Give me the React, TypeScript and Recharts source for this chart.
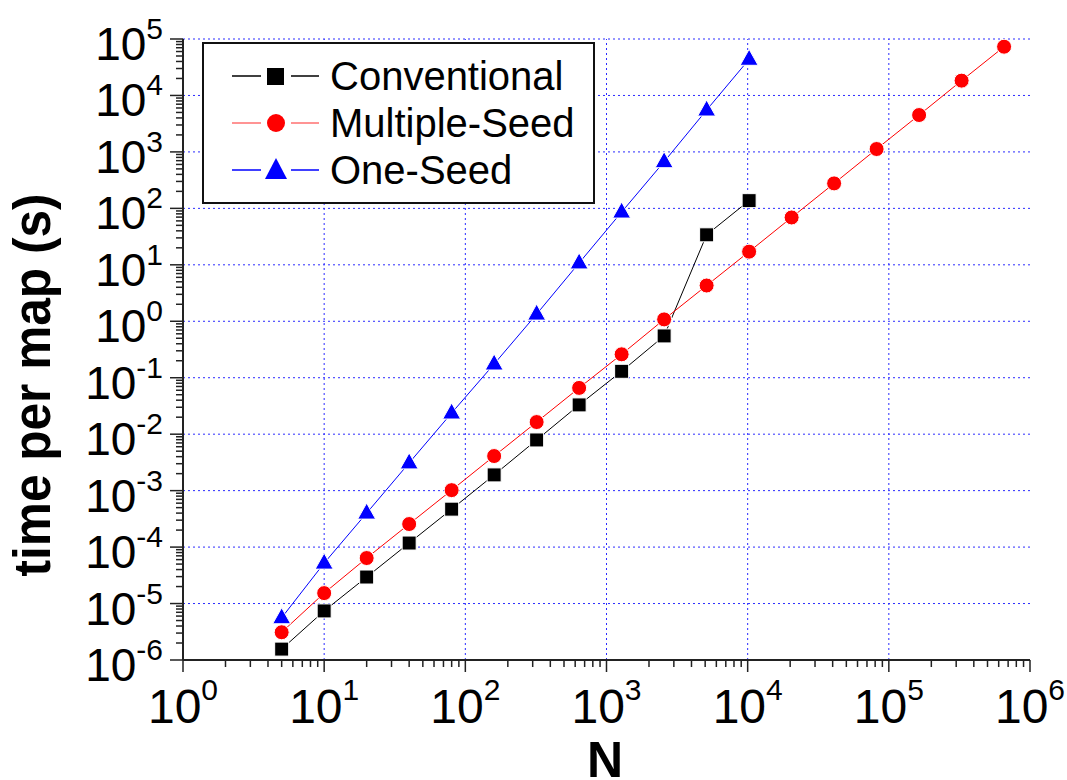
import React from 'react';
import { LineChart, Line, XAxis, YAxis, ReferenceLine, Legend } from 'recharts';

// N values and timings (seconds per map)
const nConventional = [5, 10, 20, 40, 80, 160, 320, 640, 1280, 2560, 5120, 10240];
const tConventional = [1.56e-6, 7.4e-6, 2.95e-5, 1.18e-4, 4.7e-4, 1.9e-3, 7.9e-3, 3.3e-2, 0.13, 0.55, 34, 137];

const nMultiple = [5, 10, 20, 40, 80, 160, 320, 640, 1280, 2560, 5120, 10240, 20480, 40960, 81920, 163840, 327680, 655360];
const tMultiple = [3.1e-6, 1.53e-5, 6.4e-5, 2.56e-4, 1.02e-3, 4.1e-3, 1.64e-2, 6.6e-2, 0.26, 1.08, 4.3, 17.1, 69, 277, 1125, 4500, 18300, 73000];

const nOneSeed = [5, 10, 20, 40, 80, 160, 320, 640, 1280, 2560, 5120, 10240];
const tOneSeed = [5.6e-6, 5.2e-5, 4.0e-4, 3.1e-3, 0.0237, 0.175, 1.34, 10.8, 86, 671, 5520, 43700];

const xDecades = [0, 1, 2, 3, 4, 5, 6];
const yDecades = [-6, -5, -4, -3, -2, -1, 0, 1, 2, 3, 4, 5];

const FONT = '"Liberation Sans", Arial, Helvetica, sans-serif';
const GRID = '#2b2bff';
const AXIS = '#222';

const toRows = (ns: number[], ts: number[]) => ns.map((n, i) => ({ n, t: ts[i] }));
const conventional = toRows(nConventional, tConventional);
const multiple = toRows(nMultiple, tMultiple);
const oneSeed = toRows(nOneSeed, tOneSeed);

// major + minor (2..9) ticks for each decade
const logTicks = (decs: number[]) => {
  const out: number[] = [];
  decs.forEach((e, i) => {
    if (i === decs.length - 1) {
      out.push(Math.pow(10, e));
      return;
    }
    for (let m = 1; m <= 9; m++) out.push(m * Math.pow(10, e));
  });
  return out;
};
const xTicks = logTicks(xDecades);
const yTicks = logTicks(yDecades);

const isMajor = (v: number) => {
  const lg = Math.log10(v);
  return Math.abs(lg - Math.round(lg)) < 1e-6;
};

const XTick = (props: any) => {
  const { x, y, payload } = props;
  const v = payload.value;
  const major = isMajor(v);
  return (
    <g>
      <line x1={x} x2={x} y1={y} y2={y + (major ? 12 : 7)} stroke={AXIS} strokeWidth={1.5} />
      {major && (
        <text x={x} y={y + 63} textAnchor="middle" fontSize={48} fill="#000" fontFamily={FONT}>
          <tspan>10</tspan>
          <tspan dy={-23} fontSize={30}>{Math.round(Math.log10(v))}</tspan>
        </text>
      )}
    </g>
  );
};

const YTick = (props: any) => {
  const { x, y, payload } = props;
  const v = payload.value;
  const major = isMajor(v);
  return (
    <g>
      <line x1={x - (major ? 13 : 7)} x2={x} y1={y} y2={y} stroke={AXIS} strokeWidth={1.5} />
      {major && (
        <text x={x - 20} y={y + 21} textAnchor="end" fontSize={46} fill="#000" fontFamily={FONT}>
          <tspan>10</tspan>
          <tspan dy={-21} fontSize={30}>{Math.round(Math.log10(v))}</tspan>
        </text>
      )}
    </g>
  );
};

const Square = (p: any) => (
  <rect key={`sq-${p.index}`} x={p.cx - 7} y={p.cy - 7} width={14} height={14} fill="#000" stroke="#fff" strokeWidth={1} />
);
const Circle = (p: any) => (
  <circle key={`ci-${p.index}`} cx={p.cx} cy={p.cy} r={7.5} fill="#ff0000" stroke="#fff" strokeWidth={1} />
);
const Triangle = (p: any) => (
  <polygon
    key={`tr-${p.index}`}
    points={`${p.cx},${p.cy - 10} ${p.cx - 9},${p.cy + 6} ${p.cx + 9},${p.cy + 6}`}
    fill="#0000ff"
    stroke="#fff"
    strokeWidth={1}
  />
);

const legendItems = [
  { name: 'Conventional', color: '#000', line: '#000', shape: 'square' },
  { name: 'Multiple-Seed', color: '#ff0000', line: '#ff7070', shape: 'circle' },
  { name: 'One-Seed', color: '#0000ff', line: '#0000ff', shape: 'triangle' },
];

const renderLegend = () => (
  <div
    style={{
      width: 393,
      height: 162,
      boxSizing: 'border-box',
      border: '2px solid #111',
      background: '#fff',
      paddingTop: 8,
    }}
  >
    {legendItems.map((it) => (
      <div key={it.name} style={{ display: 'flex', alignItems: 'center', height: 47 }}>
        <svg width={126} height={40} style={{ flex: 'none' }}>
          <line x1={28} x2={57} y1={20} y2={20} stroke={it.line} strokeWidth={1.5} />
          <line x1={87} x2={115} y1={20} y2={20} stroke={it.line} strokeWidth={1.5} />
          {it.shape === 'square' && <rect x={63} y={12} width={17} height={17} fill={it.color} />}
          {it.shape === 'circle' && <circle cx={72} cy={20} r={9} fill={it.color} />}
          {it.shape === 'triangle' && <polygon points="72,8 61,29 83,29" fill={it.color} />}
        </svg>
        <span style={{ fontFamily: FONT, fontSize: 40, color: '#000', lineHeight: 1 }}>{it.name}</span>
      </div>
    ))}
  </div>
);

export default function App() {
  return (
    <div style={{ position: 'absolute', left: 0, top: 0, width: 1067, height: 780, background: '#fff' }}>
      <LineChart width={1067} height={780} margin={{ top: 39, right: 37, bottom: 0, left: 0 }}>
        <XAxis
          type="number"
          dataKey="n"
          scale="log"
          domain={[1, 1e6]}
          allowDataOverflow
          ticks={xTicks}
          interval={0}
          tick={<XTick />}
          tickLine={false}
          tickSize={0}
          tickMargin={0}
          height={120}
          axisLine={{ stroke: AXIS, strokeWidth: 2 }}
          label={{
            content: () => (
              <text x={605} y={777} textAnchor="middle" fontSize={50} fontWeight="bold" fontFamily={FONT} fill="#000">
                N
              </text>
            ),
          }}
        />
        <YAxis
          type="number"
          dataKey="t"
          scale="log"
          domain={[1e-6, 1e5]}
          allowDataOverflow
          ticks={yTicks}
          interval={0}
          tick={<YTick />}
          tickLine={false}
          tickSize={0}
          tickMargin={0}
          width={183}
          axisLine={{ stroke: AXIS, strokeWidth: 2 }}
          label={{
            content: () => (
              <text
                x={50}
                y={385}
                transform="rotate(-90 50 385)"
                textAnchor="middle"
                fontSize={51}
                fontWeight="bold"
                fontFamily={FONT}
                fill="#000"
                textLength={383}
                lengthAdjust="spacingAndGlyphs"
              >
                time per map (s)
              </text>
            ),
          }}
        />
        {xDecades.slice(1, -1).map((e) => (
          <ReferenceLine key={`gx${e}`} x={Math.pow(10, e)} stroke={GRID} strokeDasharray="2 3" strokeWidth={1} />
        ))}
        {yDecades.slice(1).map((e) => (
          <ReferenceLine key={`gy${e}`} y={Math.pow(10, e)} stroke={GRID} strokeDasharray="2 3" strokeWidth={1} />
        ))}
        <Line data={conventional} dataKey="t" name="Conventional" stroke="#000" strokeWidth={1} dot={Square} isAnimationActive={false} />
        <Line data={multiple} dataKey="t" name="Multiple-Seed" stroke="#ff0000" strokeWidth={1} dot={Circle} isAnimationActive={false} />
        <Line data={oneSeed} dataKey="t" name="One-Seed" stroke="#0000ff" strokeWidth={1} dot={Triangle} isAnimationActive={false} />
        <Legend
          layout="vertical"
          align="center"
          verticalAlign="middle"
          content={renderLegend}
          wrapperStyle={{ position: 'absolute', left: 202, top: 42, width: 393, height: 162 }}
        />
      </LineChart>
    </div>
  );
}
